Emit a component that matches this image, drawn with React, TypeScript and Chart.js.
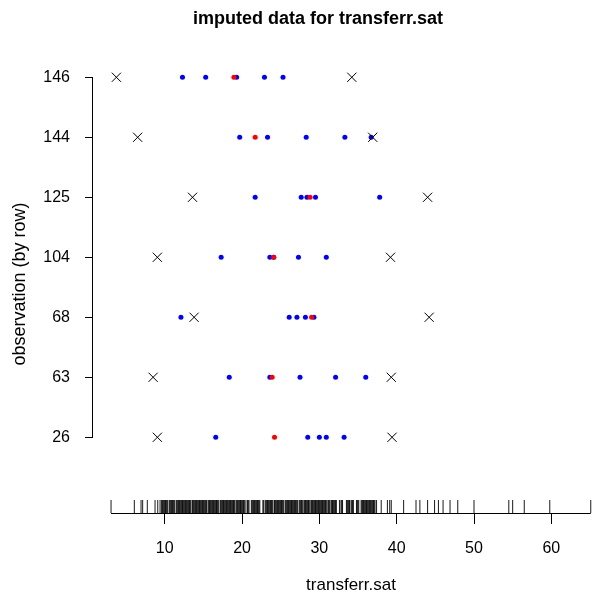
import React, { useEffect, useRef } from 'react';
import { Chart, registerables } from 'chart.js';

Chart.register(...registerables);

// Row labels (observation numbers), bottom to top
const rowLabels = ['26', '63', '68', '104', '125', '144', '146'];
const xTickValues = [10, 20, 30, 40, 50, 60];
const mainTitle = 'imputed data for transferr.sat';
const xTitle = 'transferr.sat';
const yTitle = 'observation (by row)';

// black crosses per row (same order as rowLabels)
const crossValues = [
  [9.05, 39.4],
  [8.5, 39.3],
  [13.8, 44.2],
  [9.05, 39.2],
  [13.6, 44.0],
  [6.5, 36.9],
  [3.75, 34.2],
];

// blue imputed values per row
const blueValues = [
  [16.6, 28.5, 30.0, 30.9, 33.2],
  [18.35, 23.6, 27.5, 32.1, 36.0],
  [12.1, 26.1, 27.1, 28.2, 29.3],
  [17.3, 23.6, 24.1, 27.3, 30.9],
  [21.7, 27.65, 28.4, 29.5, 37.8],
  [19.7, 23.3, 28.3, 33.3, 36.7],
  [12.3, 15.3, 19.3, 22.9, 25.3],
];

// red values per row
const redValues = [24.2, 23.9, 29.0, 24.1, 28.8, 21.7, 18.95];

// observed values shown as rug
const rugValues = [
  3.06, 6.07, 6.94, 7.15, 7.75, 8.75, 9.1,
  9.4, 9.6, 9.7, 9.8, 9.9, 10.0, 10.1, 10.2, 10.3, 10.4, 10.6, 10.7, 10.8, 10.9,
  11.0, 11.1, 11.2, 11.3, 11.5, 11.6, 11.7, 11.8, 11.9,
  12.0, 12.1, 12.2, 12.3, 12.4, 12.5, 12.6, 12.7, 12.8, 12.9,
  13.0, 13.1, 13.2, 13.3, 13.4, 13.6, 13.7, 13.8, 13.9,
  14.0, 14.1, 14.2, 14.3, 14.4, 14.5, 14.6, 14.7, 14.8, 14.9,
  15.0, 15.1, 15.2, 15.3, 15.4, 15.6, 15.7, 15.8, 15.9,
  16.0, 16.1, 16.2, 16.3, 16.4, 16.5, 16.6, 16.7, 16.8, 16.9,
  17.0, 17.2, 17.3, 17.4, 17.5, 17.6, 17.7, 17.8, 17.9,
  18.0, 18.1, 18.2, 18.3, 18.4, 18.5, 18.6, 18.7, 18.8, 18.9,
  19.0, 19.1, 19.3, 19.4, 19.5, 19.6, 19.7, 19.8, 19.9,
  20.0, 20.1, 20.2, 20.3, 20.5, 20.7, 20.8, 20.9,
  21.2, 21.3, 21.4, 21.5, 21.6, 21.7, 21.8, 21.9,
  22.0, 22.1, 22.2, 22.3, 22.7, 22.8,
  23.0, 23.1, 23.2, 23.3, 23.4, 23.5, 23.6, 23.7, 23.8, 23.9,
  24.0, 24.2, 24.3, 24.4, 24.5, 24.6, 24.7, 24.8, 24.9,
  25.0, 25.1, 25.2, 25.3, 25.4, 25.6, 25.7, 25.8, 25.9,
  26.0, 26.1, 26.2, 26.3, 26.4, 26.5, 26.6, 26.7, 26.8, 26.9,
  27.0, 27.1, 27.2, 27.4, 27.5, 27.6, 27.7, 27.8,
  28.0, 28.1, 28.2, 28.3, 28.4, 28.5, 28.6, 28.7, 28.9,
  29.0, 29.1, 29.2, 29.3, 29.4, 29.5, 29.6, 29.7, 29.8, 29.9,
  30.0, 30.1, 30.2, 30.3, 30.4, 30.5, 30.6, 30.7, 30.8, 30.9,
  31.1, 31.2, 31.3, 31.5, 31.6, 31.7, 31.8, 31.9,
  32.0, 32.1, 32.2, 32.6, 32.8, 32.9,
  33.0, 33.5, 33.6, 33.7, 33.8, 33.9,
  34.1, 34.2, 34.3, 34.4, 34.8, 34.9,
  35.0, 35.1, 35.4, 35.5, 35.6, 35.7, 35.8, 35.9,
  36.0, 36.1, 36.2, 36.3, 36.4, 36.5, 36.6, 36.7, 36.8, 36.9,
  37.0, 37.1, 37.2, 37.4,
  38.0, 38.8, 39.1, 39.3, 40.9, 42.5, 43.0, 44.0, 44.9, 45.4, 46.0, 46.9, 47.9,
  50.0, 54.5, 55.0, 56.5, 59.8, 65.1,
];

const FONT = '"Liberation Sans", Arial, Helvetica, sans-serif';

const overlayPlugin = {
  id: 'overlay',
  afterDraw(chart: any) {
    const { ctx, chartArea, scales } = chart;
    const xs = scales.x;
    const ys = scales.y;
    ctx.save();
    ctx.lineWidth = 1;
    // y axis line spanning the rows
    const ax = Math.round(chartArea.left) - 0.5;
    ctx.strokeStyle = '#000';
    ctx.beginPath();
    ctx.moveTo(ax, Math.round(ys.getPixelForValue(1)) + 0.5);
    ctx.lineTo(ax, Math.round(ys.getPixelForValue(rowLabels.length)) + 0.5);
    ctx.stroke();
    // rug (unaligned thin lines, darker where they overlap)
    const base = Math.round(chartArea.bottom);
    ctx.strokeStyle = 'rgba(0,0,0,0.9)';
    for (const v of rugValues) {
      const px = xs.getPixelForValue(v);
      ctx.beginPath();
      ctx.moveTo(px, base);
      ctx.lineTo(px, base - 13);
      ctx.stroke();
    }
    // rug baseline
    ctx.strokeStyle = '#000';
    ctx.beginPath();
    ctx.moveTo(xs.getPixelForValue(Math.min(...rugValues)), base + 0.5);
    ctx.lineTo(xs.getPixelForValue(Math.max(...rugValues)), base + 0.5);
    ctx.stroke();
    // main title
    ctx.fillStyle = '#000';
    ctx.font = 'bold 18px ' + FONT;
    ctx.textAlign = 'center';
    ctx.textBaseline = 'alphabetic';
    ctx.fillText(mainTitle, 318, 24);
    // x axis title
    ctx.font = '17px ' + FONT;
    ctx.fillText(xTitle, 351, 590);
    // y axis title
    ctx.save();
    ctx.translate(25, 284);
    ctx.rotate(-Math.PI / 2);
    ctx.font = '18px ' + FONT;
    ctx.fillText(yTitle, 0, 0);
    ctx.restore();
    ctx.restore();
  },
};

export default function App() {
  const ref = useRef<HTMLCanvasElement | null>(null);

  useEffect(() => {
    if (!ref.current) return;
    const rowPoints = (vals: number[][]) =>
      vals.flatMap((row, i) => row.map((v) => ({ x: v, y: i + 1 })));

    const chart = new Chart(ref.current, {
      type: 'scatter',
      data: {
        datasets: [
          {
            label: 'crosses',
            data: rowPoints(crossValues),
            pointStyle: 'crossRot',
            pointRadius: 6.5,
            pointBorderColor: '#000',
            pointBackgroundColor: '#000',
            pointBorderWidth: 1,
          },
          {
            label: 'red',
            data: redValues.map((v, i) => ({ x: v, y: i + 1 })),
            pointStyle: 'circle',
            pointRadius: 2.5,
            pointBorderWidth: 0,
            pointBackgroundColor: '#ff0000',
            pointBorderColor: '#ff0000',
          },
          {
            label: 'blue',
            data: rowPoints(blueValues),
            pointStyle: 'circle',
            pointRadius: 2.5,
            pointBorderWidth: 0,
            pointBackgroundColor: '#0000ff',
            pointBorderColor: '#0000ff',
          },
        ],
      },
      options: {
        responsive: false,
        animation: false,
        devicePixelRatio: 1,
        layout: { padding: 0, autoPadding: false },
        plugins: {
          legend: { display: false },
          tooltip: { enabled: false },
          title: { display: false },
        },
        scales: {
          x: {
            type: 'linear',
            min: 0.727,
            max: 65.26,
            afterFit: (s: any) => {
              s.height = 86;
              s.paddingLeft = 0;
              s.paddingRight = 0;
            },
            afterBuildTicks: (s: any) => {
              s.ticks = xTickValues.map((v) => ({ value: v }));
            },
            border: { display: false },
            grid: {
              display: true,
              drawOnChartArea: false,
              drawTicks: true,
              tickLength: 11,
              color: '#000',
              lineWidth: 1,
            },
            ticks: {
              color: '#000',
              padding: 15,
              autoSkip: false,
              maxRotation: 0,
              font: { family: FONT, size: 16 },
              callback: (v: any) => String(v),
            },
            title: { display: false },
          },
          y: {
            type: 'linear',
            min: -0.262,
            max: 8.288,
            afterFit: (s: any) => {
              s.width = 93;
              s.paddingTop = 0;
              s.paddingBottom = 0;
            },
            afterBuildTicks: (s: any) => {
              s.ticks = rowLabels.map((_, i) => ({ value: i + 1 }));
            },
            border: { display: false },
            grid: {
              display: true,
              drawOnChartArea: false,
              drawTicks: true,
              tickLength: 8,
              color: '#000',
              lineWidth: 1,
            },
            ticks: {
              color: '#000',
              padding: 15,
              autoSkip: false,
              font: { family: FONT, size: 16 },
              callback: (v: any) => rowLabels[Math.round(v) - 1] ?? '',
            },
            title: { display: false },
          },
        },
      },
      plugins: [overlayPlugin],
    });
    return () => chart.destroy();
  }, []);

  return (
    <div style={{ position: 'fixed', left: 0, top: 0, width: 592, height: 599, background: '#fff' }}>
      <canvas ref={ref} width={592} height={599} style={{ width: 592, height: 599 }} />
    </div>
  );
}
